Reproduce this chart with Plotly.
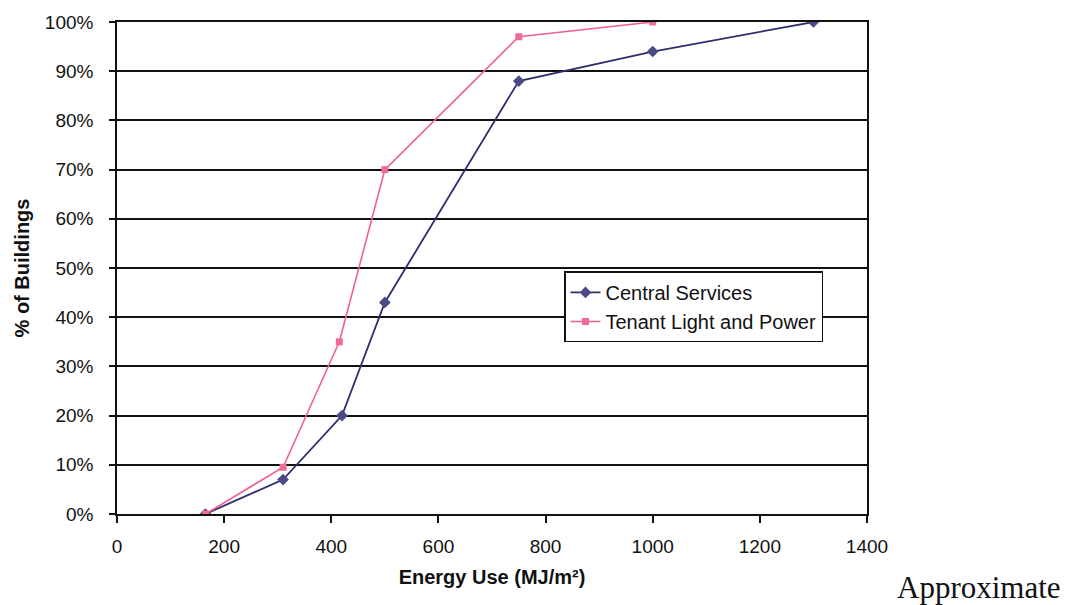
import plotly.graph_objects as go

energy_central = [165, 310, 420, 500, 750, 1000, 1300]
pct_central = [0.0, 0.07, 0.20, 0.43, 0.88, 0.94, 1.00]

energy_tenant = [165, 310, 415, 500, 750, 1000]
pct_tenant = [0.0, 0.095, 0.35, 0.70, 0.97, 1.00]

x_ticks = [0, 200, 400, 600, 800, 1000, 1200, 1400]
y_ticks = [i / 10 for i in range(11)]

fig = go.Figure()
fig.add_trace(go.Scatter(
    x=energy_central, y=pct_central, mode="lines+markers", name="Central Services",
    line=dict(color="#2e2e6e", width=1.8),
    marker=dict(symbol="diamond", size=9, color="#4a4a86"),
))
fig.add_trace(go.Scatter(
    x=energy_tenant, y=pct_tenant, mode="lines+markers", name="Tenant Light and Power",
    line=dict(color="#f0608e", width=1.6),
    marker=dict(symbol="square", size=7, color="#f06a98"),
))

fig.update_layout(
    width=1066, height=605,
    margin=dict(l=117, r=199, t=20, b=91),
    paper_bgcolor="white", plot_bgcolor="white",
    font=dict(family="Liberation Sans, Arial, sans-serif", size=19, color="#111"),
    showlegend=True,
    legend=dict(
        x=0.596, y=0.493, xanchor="left", yanchor="top",
        bgcolor="white", bordercolor="#111", borderwidth=1.5,
        font=dict(size=20), tracegroupgap=0, itemwidth=30,
    ),
    xaxis=dict(
        range=[0, 1400], tickvals=x_ticks, ticktext=[str(v) for v in x_ticks],
        showgrid=False, zeroline=False,
        showline=True, linecolor="#111", linewidth=1.5, mirror=True,
        ticks="outside", ticklen=7, tickcolor="#111", tickwidth=1.5,
        ticklabelstandoff=7, tickfont=dict(size=19),
        title=dict(text="<b>Energy Use (MJ/m²)</b>", font=dict(size=20), standoff=14),
    ),
    yaxis=dict(
        range=[0, 1], tickvals=y_ticks, tickformat=".0%",
        showgrid=True, gridcolor="#111", gridwidth=1.5, zeroline=False,
        showline=True, linecolor="#111", linewidth=1.5, mirror=True,
        ticks="outside", ticklen=6, tickcolor="#111", tickwidth=1.5,
        ticklabelstandoff=12, tickfont=dict(size=19),
        title=dict(text="<b>% of Buildings</b>", font=dict(size=20), standoff=10),
    ),
)

fig.add_annotation(
    text="Approximate", xref="paper", yref="paper", x=1.0, y=-0.149,
    xshift=196, showarrow=False, xanchor="right", yanchor="middle",
    font=dict(family="Liberation Serif, Times New Roman, serif", size=31, color="#111"),
)

fig.write_html("out.html")
